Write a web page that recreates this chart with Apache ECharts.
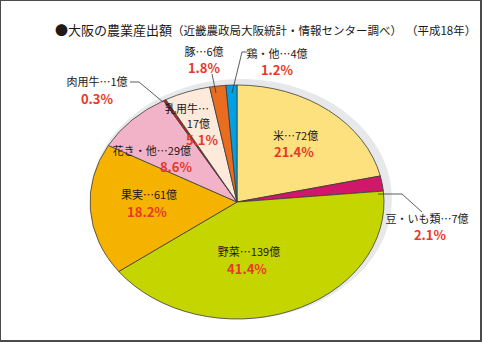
<!DOCTYPE html>
<html><head><meta charset="utf-8">
<script src="https://cdn.jsdelivr.net/npm/echarts@6/dist/echarts.min.js"></script>
<style>
html,body{margin:0;padding:0;background:#fff;}
#wrap{position:relative;width:482px;height:342px;overflow:hidden;box-sizing:border-box;border-style:solid;border-color:#4a4a4a;border-width:1px 2px 2px 1px;background:#fff;}
#pie{position:absolute;left:-1px;top:-1px;width:482px;height:342px;transform:scaleX(1.2564);transform-origin:237px 202px;}
#lab{position:absolute;left:-1px;top:-1px;width:482px;height:342px;}
</style></head>
<body><div id="wrap"><div id="pie"></div><div id="lab"></div></div>
<script>
const categories = ['米','豆・いも類','野菜','果実','花き・他','肉用牛','乳用牛','豚','鶏・他'];
const values = [72, 7, 139, 61, 29, 1, 17, 6, 4];
const colors = ['#FDE17E','#D0176A','#C5D500','#F5B300','#F2B3C9','#C7241C','#FDEADB','#EA6D1F','#00A0E3'];
const unit = '億';
const titleMain = '●大阪の農業産出額';
const titleSub = '（近畿農政局大阪統計・情報センター調べ）';
const titleYear = '（平成18年）';

const total = values.reduce((a, b) => a + b, 0);
const pct = values.map(v => (v / total * 100).toFixed(1) + '%');

const FONT = '"Noto Sans CJK JP", "Noto Sans", sans-serif';

// pie (drawn in horizontally scaled container to obtain the ellipse)
const pie = echarts.init(document.getElementById('pie'), null, {renderer: 'svg'});
pie.setOption({
  animation: false,
  series: [
    {
      type: 'pie', silent: true, center: [240.2, 199], radius: 120,
      label: {show: false}, labelLine: {show: false},
      itemStyle: {color: '#E6E8EA'},
      data: [{value: total, name: 'shadow'}]
    },
    {
      type: 'pie', silent: true, center: [237, 202], radius: 117,
      startAngle: 90, clockwise: true,
      label: {show: false}, labelLine: {show: false},
      itemStyle: {borderColor: '#3a3a3a', borderWidth: 0.7},
      data: categories.map((c, i) => ({name: c, value: values[i], itemStyle: {color: colors[i]}}))
    }
  ]
});

// label layout: [nameX, nameY, pctX, pctY, align]
const layout = {
  '米': [273, 135, 274, 151, 'left'],
  '豆・いも類': [427, 218, 430, 234, 'center'],
  '野菜': [249, 251, 247, 268, 'center'],
  '果実': [149, 194, 147, 211, 'center'],
  '花き・他': [191, 150, 192, 166, 'right'],
  '肉用牛': [97, 81, 97, 98, 'center'],
  '豚': [204, 51, 204, 67, 'center'],
  '鶏・他': [277, 53, 277, 69, 'center']
};

const nameStyle = {fill: '#231815', fontSize: 11, lineHeight: 11, fontFamily: FONT, verticalAlign: 'middle'};
const pctStyle = {fill: '#E83828', fontSize: 13, lineHeight: 13, fontWeight: 'bold', fontFamily: FONT, verticalAlign: 'middle'};

const graphics = [];
categories.forEach((c, i) => {
  const nameText = c + '…' + values[i] + unit;
  if (c === '乳用牛') {
    graphics.push({type: 'text', style: Object.assign({text: c + '…', x: 209, y: 108, align: 'right'}, nameStyle)});
    graphics.push({type: 'text', style: Object.assign({text: values[i] + unit, x: 210, y: 123, align: 'right'}, nameStyle)});
    graphics.push({type: 'text', style: Object.assign({text: pct[i], x: 218, y: 139, align: 'right'}, pctStyle)});
    return;
  }
  const L = layout[c];
  graphics.push({type: 'text', style: Object.assign({text: nameText, x: L[0], y: L[1], align: L[4]}, nameStyle)});
  graphics.push({type: 'text', style: Object.assign({text: pct[i], x: L[2], y: L[3], align: L[4]}, pctStyle)});
});

const leaders = [
  [[130, 82], [139, 82], [163, 102]],
  [[212, 74], [216, 93]],
  [[247, 52], [242, 52], [232, 93]],
  [[378, 194], [402, 194], [422, 212]]
];
leaders.forEach(p => graphics.push({type: 'polyline', shape: {points: p}, style: {stroke: '#333', lineWidth: 0.8, fill: null}}));

const lab = echarts.init(document.getElementById('lab'), null, {renderer: 'svg'});
lab.setOption({
  animation: false,
  title: {
    text: '{a|' + titleMain + '}{b|' + titleSub + '}{c|' + titleYear + '}',
    left: 50, top: 18,
    textStyle: {
      fontWeight: 'normal',
      rich: {
        a: {fontSize: 13, color: '#231815', fontFamily: FONT, fontWeight: 'normal'},
        b: {fontSize: 11.5, color: '#231815', fontFamily: FONT, fontWeight: 'normal'},
        c: {fontSize: 11.5, color: '#231815', fontFamily: FONT, fontWeight: 'normal', padding: [0, 0, 0, 4]}
      }
    }
  },
  graphic: graphics
});
</script></body></html>
